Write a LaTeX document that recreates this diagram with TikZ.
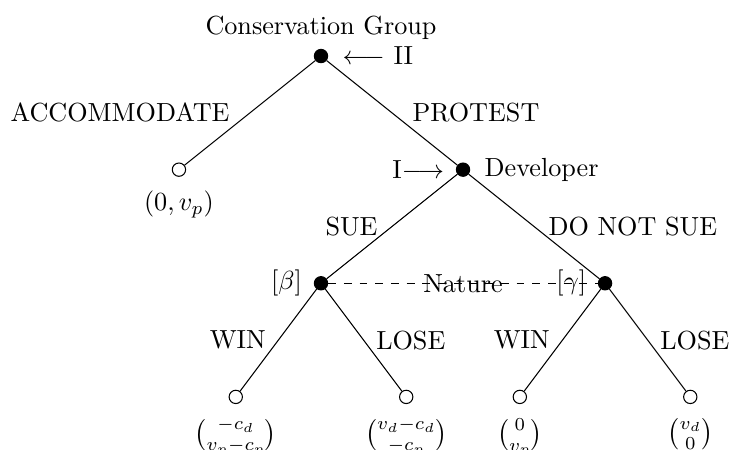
\documentclass[tikz,border=0pt]{standalone}
\usepackage{amsmath}
\begin{document}
\begin{tikzpicture}[scale=0.763, label distance=2pt]
    % Node style
    \tikzstyle{solid node}=[circle,draw,inner sep=1.8pt,fill=black]
    \tikzstyle{hollow node}=[circle,draw,inner sep=1.8pt]

    \useasboundingbox (-5.65,-6.934) rectangle (7.287,0.986);

    % --- Level 0: Conservation Group ---
    \node[solid node, label={[label distance=0pt]above:{Conservation Group}}, label=right:{$\longleftarrow$ II}] (root) at (0,0) {};

    % --- Level 1 ---
    \node[hollow node, label=below:{$(0,v_p)$}] (n1_left) at (-2.5,-2) {};
    \node[solid node, label={[label distance=1pt]left:{I$\longrightarrow$}}, label=right:{Developer}] (n1_right) at (2.5,-2) {};

    \draw (root) -- node[left=4.3pt] {ACCOMMODATE} (n1_left);
    \draw (root) -- node[right=4.3pt] {PROTEST} (n1_right);

    % --- Level 2: Nature ---
    \node[solid node, label={[label distance=1pt]left:{$[\beta]$}}] (n2_left) at (0,-4) {};
    \node[solid node, label={[label distance=1pt]left:{$[\gamma]$}}] (n2_right) at (5,-4) {};

    \draw (n1_right) -- node[left=2pt] {SUE} (n2_left);
    \draw (n1_right) -- node[right=2pt] {DO NOT SUE} (n2_right);

    % Information set of Nature (dashed)
    \draw[dashed] (n2_left) -- node {Nature} (n2_right);

    % --- Level 3: Leaves and Payoffs ---
    \node[hollow node, label=below:{$\binom{-c_d}{v_p-c_p}$}] (l_1) at (-1.5,-6) {};
    \node[hollow node, label=below:{$\binom{v_d-c_d}{-c_p}$}] (l_2) at (1.5,-6) {};
    \node[hollow node, label=below:{$\binom{0}{v_p}$}] (l_3) at (3.5,-6) {};
    \node[hollow node, label=below:{$\binom{v_d}{0}$}] (l_4) at (6.5,-6) {};

    % Branches from SUE
    \draw (n2_left) -- node[left=1.3pt] {WIN} (l_1);
    \draw (n2_left) -- node[right=1.3pt] {LOSE} (l_2);

    % Branches from DO NOT SUE
    \draw (n2_right) -- node[left=1.3pt] {WIN} (l_3);
    \draw (n2_right) -- node[right=1.3pt] {LOSE} (l_4);

\end{tikzpicture}
\end{document}
